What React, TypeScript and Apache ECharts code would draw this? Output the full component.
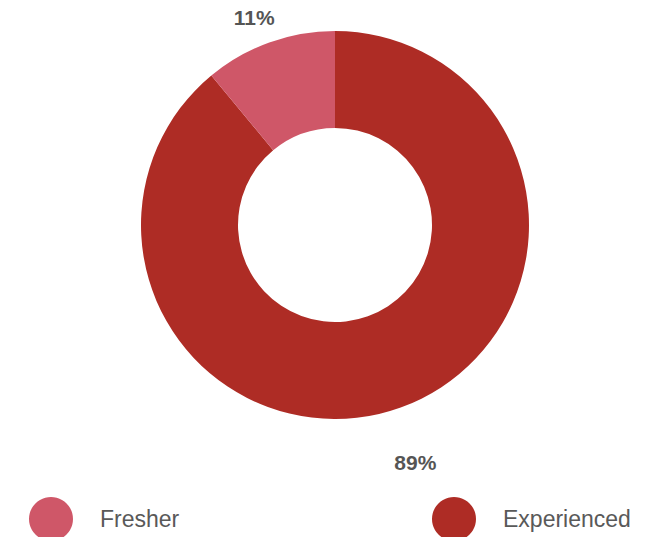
import React, { useEffect, useRef } from "react";
import * as echarts from "echarts";

const categories = ["Experienced", "Fresher"];
const values = [89, 11];
const colors = ["#AE2C25", "#CF5768"];
const legendOrder = ["Fresher", "Experienced"];

export default function App() {
  const ref = useRef<HTMLDivElement>(null);
  useEffect(() => {
    const chart = echarts.init(ref.current!, null, { renderer: "svg" });
    const lineLens = [
      { length: 58, length2: 0 },
      { length: 27, length2: 6 },
    ];
    const labelDx = [-10, 5];
    const legendText = { fontSize: 23, color: "#595959", padding: [0, 0, 0, 22] };
    chart.setOption({
      animation: false,
      textStyle: { fontFamily: "Liberation Sans, Arial, sans-serif" },
      legend: [
        {
          data: [legendOrder[0]],
          left: 29,
          top: 497,
          padding: 0,
          icon: "circle",
          itemWidth: 44,
          itemHeight: 44,
          selectedMode: false,
          textStyle: legendText,
        },
        {
          data: [legendOrder[1]],
          left: 432,
          top: 497,
          padding: 0,
          icon: "circle",
          itemWidth: 44,
          itemHeight: 44,
          selectedMode: false,
          textStyle: legendText,
        },
      ],
      series: [
        {
          type: "pie",
          center: [335, 225],
          radius: [97, 194],
          startAngle: 90,
          clockwise: true,
          avoidLabelOverlap: false,
          label: {
            show: true,
            position: "outside",
            formatter: "{d}%",
            fontSize: 21,
            fontWeight: "bold",
            color: "#555555",
          },
          labelLine: { show: false },
          labelLayout: (p: any) => ({
            align: "center",
            verticalAlign: "middle",
            dx: labelDx[p.dataIndex],
          }),
          data: categories.map((name, i) => ({
            name,
            value: values[i],
            itemStyle: { color: colors[i] },
            labelLine: { show: false, ...lineLens[i] },
          })),
        },
      ],
    });
    return () => chart.dispose();
  }, []);
  return (
    <div
      ref={ref}
      style={{ position: "fixed", left: 0, top: 0, width: 664, height: 537, background: "#fff" }}
    />
  );
}
